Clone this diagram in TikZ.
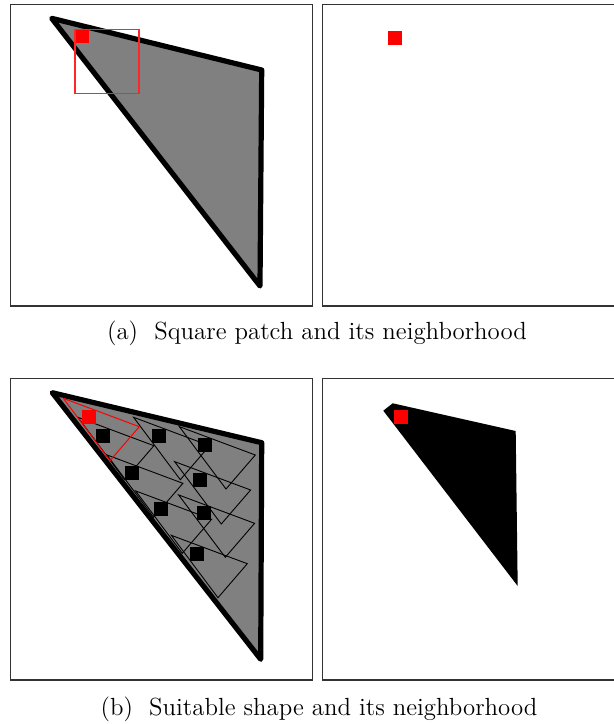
\documentclass[tikz,border=0pt]{standalone}
\usepackage{fontspec}
\begin{document}
\begin{tikzpicture}[x=0.5pt,y=-0.5pt,
  frame/.style={draw=black!80, line width=0.6pt},
  bigtri/.style={draw=black, line width=2.6pt, line join=round, line cap=round, fill=gray},
  thintri/.style={draw=black, line width=0.45pt, line join=miter},
  redtri/.style={draw=red, line width=0.5pt},
  redbox/.style={draw=red!85!white, line width=0.55pt},
  redsq/.style={fill=red},
  blksq/.style={fill=black},
  captext/.style={font=\fontsize{12.4}{15}\selectfont, anchor=base, inner sep=0pt}]
\useasboundingbox (0,0) rectangle (614,724);
\begin{scope}
\clip (0,0) rectangle (614,724);
% ---------- top row ----------
\draw[frame] (10.7,4.7) rectangle (312.7,306);
\draw[frame] (322.7,4.7) rectangle (640,306);
\draw[bigtri] (51.7,18.3) -- (261.7,70) -- (260,286) -- cycle;
\fill[redsq] (75,29.3) rectangle (89,43.3);
\draw[redbox] (75,29.3) rectangle (139,93.3);
\fill[redsq] (388,30.7) rectangle (402,44.7);
% ---------- bottom row ----------
\draw[frame] (10.7,378.3) rectangle (312.7,680);
\draw[frame] (322.7,378.3) rectangle (640,680);
\draw[bigtri] (52.3,392.7) -- (261.7,442.7) -- (260.7,659.3) -- cycle;
\foreach \cx/\cy in {103.3/435.7, 159/435.7, 204.7/445, 132.3/473.3, 200/480, 161/509.3, 204/513.3, 196.7/553.7}{
  \draw[thintri] (\cx-25.4,\cy-18.4) -- (\cx+50.6,\cy+10) -- (\cx+21.3,\cy+44) -- cycle;
}
\foreach \cx/\cy in {103.3/435.7, 159/435.7, 204.7/445, 132.3/473.3, 200/480, 161/509.3, 204/513.3, 196.7/553.7}{
  \fill[blksq] (\cx-7,\cy-7) rectangle (\cx+7,\cy+7);
}
\draw[redtri] (63.3,398.3) -- (139.3,426.7) -- (110,460.7) -- cycle;
\fill[redsq] (81.7,409.7) rectangle (95.7,423.7);
% right bottom polygon
\fill[black] (383.3,410.7) -- (392.7,403.3) -- (515.7,431) -- (517.7,586) -- cycle;
\fill[redsq] (394,410) rectangle (408,424);
\end{scope}
% captions
\node[captext] (capa) at (317,339.5) {(a)\ \ Square patch and its neighborhood};
\node[captext] (capb) at (319,715.5) {(b)\ \ Suitable shape and its neighborhood};
\end{tikzpicture}
\end{document}
